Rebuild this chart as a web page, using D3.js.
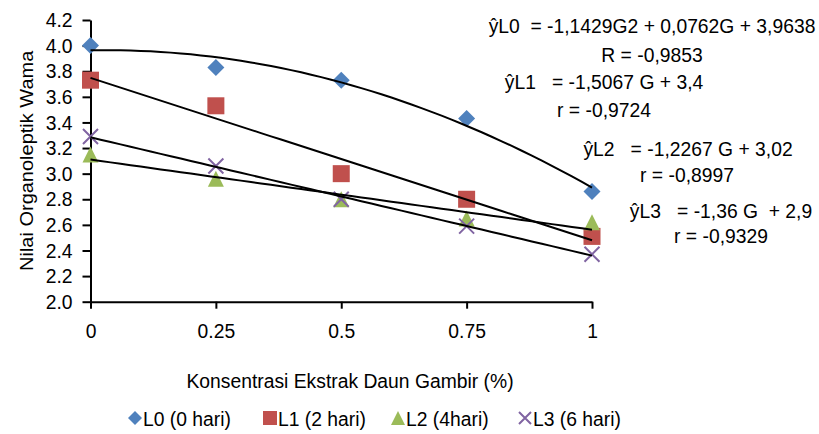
<!DOCTYPE html>
<html>
<head>
<meta charset="utf-8">
<script src="https://cdn.jsdelivr.net/npm/d3@7"></script>
<style>
  body { margin: 0; background: #fff; }
  svg { font-family: "Liberation Sans", Arial, sans-serif; }
  text { white-space: pre; }
</style>
</head>
<body>
<svg id="chart" width="819" height="434"></svg>
<script>
// data
const concentrations = [0, 0.25, 0.5, 0.75, 1];
const xTickLabels = ["0", "0.25", "0.5", "0.75", "1"];
const yTicks = [2.0, 2.2, 2.4, 2.6, 2.8, 3.0, 3.2, 3.4, 3.6, 3.8, 4.0, 4.2];
const seriesNames = ["L0 (0 hari)", "L1 (2 hari)", "L2 (4hari)", "L3 (6 hari)"];
const l0Values = [4.0, 3.83, 3.73, 3.43, 2.86];
const l1Values = [3.73, 3.53, 3.0, 2.8, 2.51];
const l2Values = [3.15, 2.96, 2.8, 2.65, 2.62];
const l3Values = [3.29, 3.06, 2.8, 2.59, 2.37];
const equationLines = [
    "ŷL0  = -1,1429G2 + 0,0762G + 3,9638",
    "R = -0,9853",
    "ŷL1   = -1,5067 G + 3,4",
    "r = -0,9724",
    "ŷL2   = -1,2267 G + 3,02",
    "r = -0,8997",
    "ŷL3   = -1,36 G  + 2,9",
    "r = -0,9329"
];

const colors = ["#4F81BD", "#C0504D", "#9BBB59", "#8064A2"];
const FS = "21px";   // font size
const K = 0.92;      // horizontal squeeze of text
const svg = d3.select("#chart");

const x = d3.scaleLinear().domain([0, 1]).range([90.5, 592]);
const y = d3.scaleLinear().domain([2.0, 4.2]).range([301.7, 20]);

// add a squeezed text at (tx, ty)
function addText(parent, tx, ty, str, anchor) {
    return parent.append("text")
        .attr("transform", `translate(${tx}, ${ty}) scale(${K}, 1)`)
        .attr("text-anchor", anchor || "start")
        .attr("font-size", FS)
        .text(str);
}

// axes
const xAxis = d3.axisBottom(x).tickValues(concentrations)
    .tickFormat((d, i) => xTickLabels[i]).tickSize(7).tickSizeOuter(0).tickPadding(10);
const yAxis = d3.axisLeft(y).tickValues(yTicks)
    .tickFormat(d3.format(".1f")).tickSize(8).tickSizeOuter(0).tickPadding(10);

const gx = svg.append("g").attr("transform", `translate(0, ${y(2.0)})`).call(xAxis);
const gy = svg.append("g").attr("transform", `translate(${x(0)}, 0)`).call(yAxis);
[gx, gy].forEach(g => {
    g.selectAll("path, line").attr("stroke", "#000").attr("stroke-width", 2);
    g.selectAll("text").attr("font-size", FS).attr("fill", "#000")
        .attr("font-family", "Liberation Sans, Arial, sans-serif");
});
gx.selectAll("text").attr("dy", "0.93em").attr("transform", `scale(${K}, 1)`);
gy.selectAll("text").attr("x", -18 / K).attr("transform", `scale(${K}, 1)`);

// axis titles
addText(svg, 350, 388, "Konsentrasi Ekstrak Daun Gambir (%)", "middle");
svg.append("text")
    .attr("transform", `translate(33, ${(y(2.0) + y(4.2)) / 2}) rotate(-90) scale(1, ${K})`)
    .attr("text-anchor", "middle").attr("font-size", "20px")
    .text("Nilai Organoleptik Wama");

// marker shapes
function drawMarker(g, type, cx, cy, s, color) {
    const h = s / 2;
    if (type === 0) {
        g.append("path").attr("d", `M${cx},${cy - h}L${cx + h},${cy}L${cx},${cy + h}L${cx - h},${cy}Z`)
            .attr("fill", color);
    } else if (type === 1) {
        g.append("rect").attr("x", cx - h).attr("y", cy - h)
            .attr("width", s).attr("height", s).attr("fill", color);
    } else if (type === 2) {
        g.append("path").attr("d", `M${cx},${cy - h}L${cx + h},${cy + h}L${cx - h},${cy + h}Z`)
            .attr("fill", color);
    } else {
        g.append("path").attr("d", `M${cx - h},${cy - h}L${cx + h},${cy + h}M${cx - h},${cy + h}L${cx + h},${cy - h}`)
            .attr("stroke", color).attr("stroke-width", 2).attr("fill", "none");
    }
}

const allSeries = [l0Values, l1Values, l2Values, l3Values];
const markerSizes = [17, 17, 16, 15];
const points = svg.append("g");
allSeries.forEach((vals, si) => {
    vals.forEach((v, i) => drawMarker(points, si, x(concentrations[i]), y(v), markerSizes[si], colors[si]));
});

// trendlines (least squares)
function linearFit(xs, ys) {
    const mx = d3.mean(xs), my = d3.mean(ys);
    const b = d3.sum(xs, (d, i) => (d - mx) * (ys[i] - my)) / d3.sum(xs, d => (d - mx) * (d - mx));
    return t => my + b * (t - mx);
}
function quadFit(xs, ys) {
    const s = k => d3.sum(xs, d => Math.pow(d, k));
    const t = k => d3.sum(xs, (d, i) => Math.pow(d, k) * ys[i]);
    const A = [[s(0), s(1), s(2), t(0)], [s(1), s(2), s(3), t(1)], [s(2), s(3), s(4), t(2)]];
    for (let i = 0; i < 3; i++) {
        for (let j = i + 1; j < 3; j++) {
            const f = A[j][i] / A[i][i];
            for (let k = i; k < 4; k++) A[j][k] -= f * A[i][k];
        }
    }
    const c = [0, 0, 0];
    for (let i = 2; i >= 0; i--) {
        let v = A[i][3];
        for (let k = i + 1; k < 3; k++) v -= A[i][k] * c[k];
        c[i] = v / A[i][i];
    }
    return q => c[0] + c[1] * q + c[2] * q * q;
}

const fits = [quadFit(concentrations, l0Values)].concat(
    [l1Values, l2Values, l3Values].map(v => linearFit(concentrations, v)));
const line = d3.line().x(d => x(d[0])).y(d => y(d[1]));
fits.forEach(f => {
    const samples = d3.range(0, 1.0001, 0.02).map(t => [t, f(t)]);
    svg.append("path").attr("d", line(samples))
        .attr("fill", "none").attr("stroke", "#000").attr("stroke-width", 2);
});

// equations
const eqPos = [[652, 33], [652, 62], [604, 89], [604, 117], [688, 156], [687, 182], [721, 218], [721, 243]];
equationLines.forEach((t, i) => addText(svg, eqPos[i][0], eqPos[i][1], t, "middle"));

// legend
const legendX = [135, 270, 398, 525];
seriesNames.forEach((name, i) => {
    drawMarker(svg, i, legendX[i], 418, i === 3 ? 12 : 14, colors[i]);
    addText(svg, legendX[i] + 8, 426, name);
});
</script>
</body>
</html>
